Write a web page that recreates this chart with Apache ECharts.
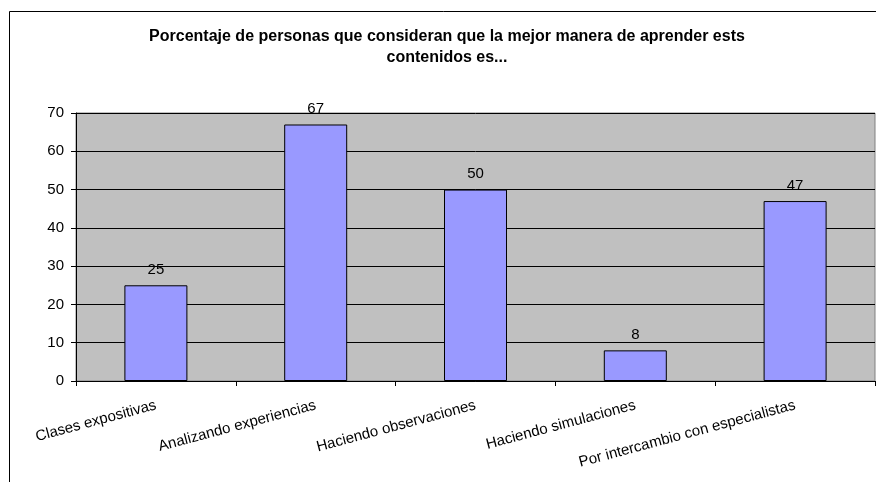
<!DOCTYPE html>
<html>
<head>
<meta charset="utf-8">
<script src="https://cdn.jsdelivr.net/npm/echarts@6/dist/echarts.min.js"></script>
<style>
    html, body { margin: 0; padding: 0; background: #fff; }
    #chart { width: 876px; height: 482px; }
</style>
</head>
<body>
<div id="chart"></div>
<script>
    var categories = ['Clases expositivas', 'Analizando experiencias', 'Haciendo observaciones', 'Haciendo simulaciones', 'Por intercambio con especialistas'];
    var values = [25, 67, 50, 8, 47];
    var yTicks = [0, 10, 20, 30, 40, 50, 60, 70];

    var myChart = echarts.init(document.getElementById('chart'));
    var font = 'Liberation Sans, Arial, sans-serif';

    var option = {
        backgroundColor: '#fff',
        animation: false,
        title: {
            text: 'Porcentaje de personas que consideran que la mejor manera de aprender ests\ncontenidos es...',
            left: 447,
            top: 26,
            padding: 0,
            textAlign: 'center',
            textStyle: {
                fontFamily: font,
                fontSize: 16,
                fontWeight: 'bold',
                color: '#000',
                lineHeight: 21
            }
        },
        graphic: [{
            type: 'rect',
            shape: { x: 9.5, y: 11.5, width: 900, height: 500 },
            style: { fill: 'none', stroke: '#000', lineWidth: 1 },
            silent: true
        }],
        grid: {
            left: 76,
            right: 1,
            top: 113,
            bottom: 101,
            show: true,
            backgroundColor: '#C0C0C0',
            borderColor: '#808080',
            borderWidth: 1
        },
        xAxis: {
            type: 'category',
            data: categories,
            axisLine: { lineStyle: { color: '#000', width: 1 } },
            axisTick: { show: true, length: 5, alignWithLabel: false, lineStyle: { color: '#000' } },
            axisLabel: {
                rotate: 15,
                interval: 0,
                margin: 24,
                fontFamily: font,
                fontSize: 15,
                color: '#000'
            }
        },
        yAxis: {
            type: 'value',
            min: yTicks[0],
            max: yTicks[yTicks.length - 1],
            interval: 10,
            axisLine: { show: true, lineStyle: { color: '#000', width: 1 } },
            axisTick: { show: true, length: 5, lineStyle: { color: '#000' } },
            axisLabel: {
                margin: 12,
                fontFamily: font,
                fontSize: 15,
                color: '#000'
            },
            splitLine: { show: true, lineStyle: { color: '#000', width: 1 } }
        },
        series: [{
            type: 'bar',
            data: values,
            barWidth: 63,
            itemStyle: {
                color: '#9999FF',
                borderColor: '#000',
                borderWidth: 1
            },
            label: {
                show: true,
                position: 'top',
                distance: 8,
                fontFamily: font,
                fontSize: 15,
                color: '#000'
            }
        }]
    };
    myChart.setOption(option);
</script>
</body>
</html>
